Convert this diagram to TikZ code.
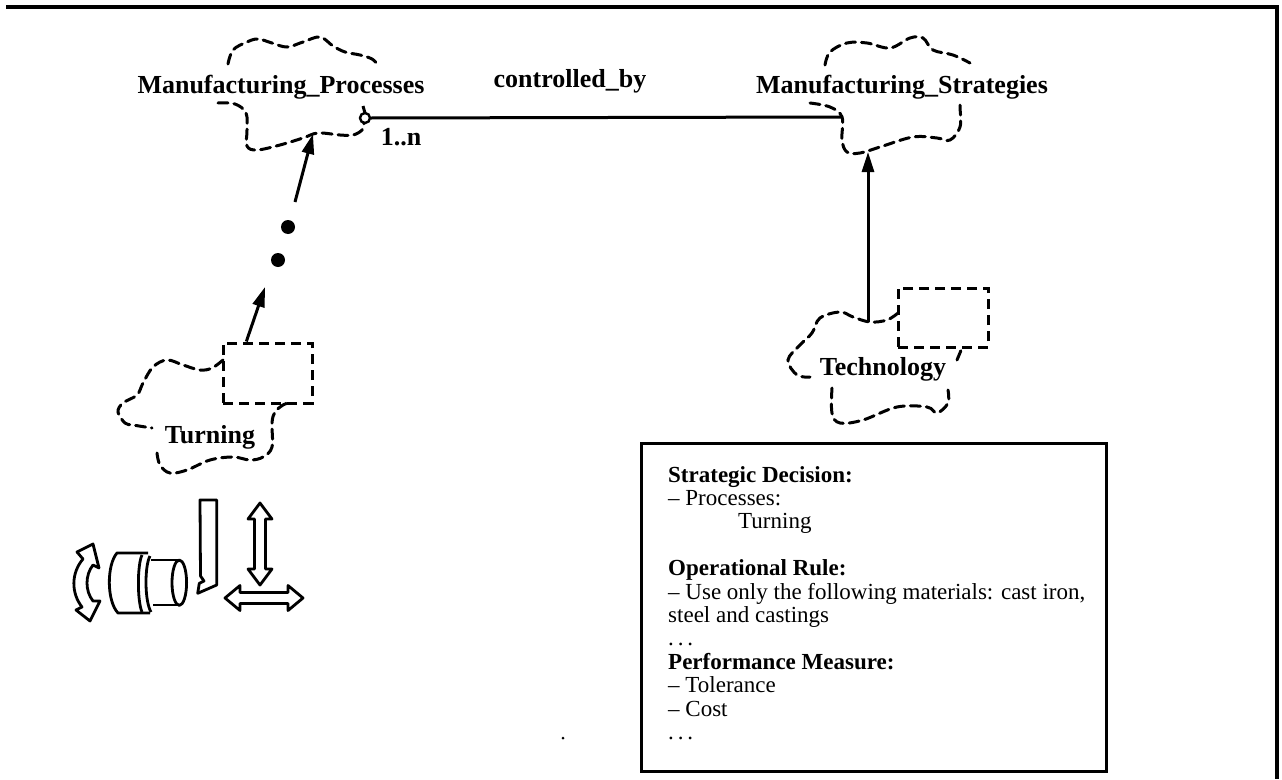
\documentclass[tikz,border=0pt]{standalone}
\usepackage{fontspec}
\setmainfont{Liberation Serif}
\usetikzlibrary{arrows.meta,calc}
\begin{document}
\begin{tikzpicture}[x=1pt,y=-1pt,
  cloud/.style={line width=3pt, dash pattern=on 10pt off 6pt, line cap=round},
  dashbox/.style={draw, line width=3pt, dash pattern=on 10pt off 6pt, inner sep=0pt},
  lbl/.style={font=\fontsize{26}{30}\selectfont\bfseries, inner sep=0pt, anchor=base},
  link/.style={line width=3pt},
  tip/.style={-{Triangle[length=20pt,width=12pt]}},
  icon/.style={line width=2.8pt, line join=round},
  dot/.style={circle, fill=black, inner sep=0pt, minimum size=14pt}
]
\useasboundingbox (0,0) rectangle (1282,779);

% page frame (top and right edges)
\draw[line width=4pt] (6,7) -- (1277,7) -- (1277,779);

% ---- class labels ----
\node[lbl] (mp)   at (281,93)  {Manufacturing\_Processes};
\node[lbl] (ms)   at (902,93)  {Manufacturing\_Strategies};
\node[lbl] (cb)   at (570,87)  {controlled\_by};
\node[lbl] (card) at (401,145) {1..n};
\node[lbl] (tech) at (883,375) {Technology};
\node[lbl] (turn) at (210,443) {Turning};

% ---- cloud outlines ----
% Manufacturing_Processes
\draw[cloud] plot[smooth, tension=0.6] coordinates {(228,64) (233,50) (247,42) (258,39) (272,43) (287,47) (303,42) (320,37) (333,46) (345,52) (360,55) (372,59) (378,65)};
\draw[cloud] plot[smooth, tension=0.6] coordinates {(218,103) (235,104) (246,113) (247,130) (247,146) (257,150) (280,145) (303,138) (318,133) (340,135) (353,135) (362,130) (364,123)};
\draw[line width=3pt] (365,113) -- (363,106);

% Manufacturing_Strategies
\draw[cloud] plot[smooth, tension=0.6] coordinates {(825,65) (830,52) (847,43) (867,43) (890,48) (910,38) (923,38) (933,50) (953,55) (970,63)};
\draw[cloud] plot[smooth, tension=0.6] coordinates {(810,103) (830,107) (842,117) (842,140) (847,152) (860,153) (880,147) (913,137) (937,138) (950,140) (960,127) (960,107) (960,102)};

% Technology
\draw[cloud] plot[smooth, tension=0.6] coordinates {(898,313) (887,320) (870,322) (853,317) (840,312) (820,318) (812,333) (800,345) (788,360) (797,375) (810,377)};
\draw[cloud] plot[smooth, tension=0.6] coordinates {(832,388) (832,413) (840,423) (863,420) (897,407) (927,407) (937,413) (948,403) (948,390)};
\draw[cloud] (957,360) -- (962,348);
\node[dashbox, minimum width=90pt, minimum height=59pt] (techbox) at (943,317.5) {};

% Turning
\draw[cloud] plot[smooth, tension=0.6] coordinates {(223,360) (212,368) (200,370) (183,365) (167,360) (153,367) (143,383) (137,395) (123,403) (118,412) (125,423) (133,425) (152,428)};
\draw[cloud] plot[smooth, tension=0.6] coordinates {(157,453) (160,465) (170,473) (187,470) (210,460) (233,457) (250,460) (263,457) (272,447) (272,423) (275,412) (283,405) (288,403)};
\node[dashbox, minimum width=89pt, minimum height=60pt] (turnbox) at (267.5,373) {};

% ---- connectors ----
\node[circle, draw, fill=white, line width=2.4pt, inner sep=0pt, minimum size=10pt] (pcirc) at (365,118) {};
\coordinate (msleft) at (843,117);
\draw[link] (pcirc.east) -- (msleft);

\coordinate (techtop) at (868,322);
\coordinate (msbot)   at (868,152);
\draw[link,tip] (techtop) -- (msbot);

\coordinate (turnout) at ($(turnbox.north west)!0.27!(turnbox.north east)$);
\coordinate (gapend)  at (265,287);
\node[dot] (d1) at (278,260) {};
\node[dot] (d2) at (288,227) {};
\coordinate (gapstart) at (295,202);
\coordinate (mpbot)    at (313,134);
\draw[link,tip] (turnout) -- (gapend);
\draw[link,tip] (gapstart) -- (mpbot);

% ---- turning pictogram ----
% rotation arrow
\draw[icon] (83,559) -- (77,552) -- (93,544) -- (99,568) -- (93,565)
  .. controls (85,575) and (85,591) .. (93,601) -- (100,601) -- (90,621) -- (76,610) -- (82,607)
  .. controls (71,593) and (71,573) .. (83,559) -- cycle;
% workpiece
\draw[icon] (148,553) -- (117,553) .. controls (106.6,565) and (106.6,601) .. (118,613) -- (150,613);
\draw[icon] (142,555) .. controls (137.2,565) and (137.2,601) .. (142,612);
\draw[icon] (150,556) .. controls (144.5,566) and (144.5,601) .. (151,612);
\draw[icon] (151,560) -- (179,560);
\draw[icon] (153,605) -- (179,605);
\draw[icon] (179.3,582.7) ellipse [x radius=7.3, y radius=22.7];
% cutting tool
\draw[icon] (200,500) -- (216.7,500) -- (216.7,585) -- (197.7,593.3) -- (199.3,583.3) -- (204,581) -- (200.5,576) -- cycle;
% feed arrows
\draw[icon] (260,503) -- (272,519) -- (265.5,519) -- (265.5,569) -- (272,569) -- (260,585) -- (248,569) -- (254.5,569) -- (254.5,519) -- (248,519) -- cycle;
\draw[icon] (225,598) -- (240,585.5) -- (240,592.5) -- (288,592.5) -- (288,585.5) -- (303,598) -- (288,610.5) -- (288,603.5) -- (240,603.5) -- (240,610.5) -- cycle;

% ---- rule box ----
\node[draw, line width=3pt, minimum width=465pt, minimum height=328pt, inner sep=0pt] (infobox) at (873.5,607) {};
\node[anchor=base west, inner sep=0pt, font=\fontsize{23}{23.4}\selectfont] (rules) at (668,482) {%
  \begin{tabular}[t]{@{}l@{}}
  \textbf{Strategic Decision:}\\
  – Processes:\\
  \hspace*{70pt}Turning\\
  \\
  \textbf{Operational Rule:}\\
  – Use only the following materials: cast iron,\\
  steel and castings\\
  .\,.\,.\\
  \textbf{Performance Measure:}\\
  – Tolerance\\
  – Cost\\
  .\,.\,.
  \end{tabular}};

\fill (563,738) circle (1.5);
\end{tikzpicture}
\end{document}
